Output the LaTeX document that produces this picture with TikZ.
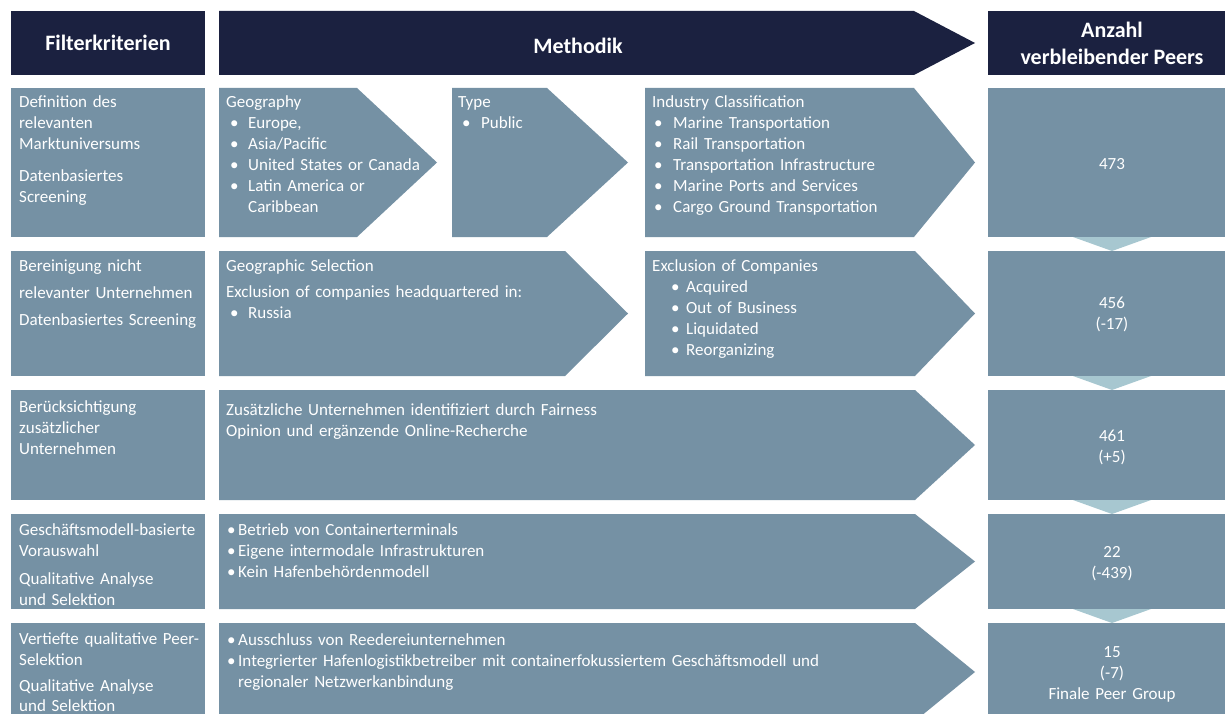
\documentclass[tikz,border=0pt]{standalone}
\usepackage{fontspec}
\setmainfont{Carlito}
\definecolor{navy}{HTML}{1B2140}
\definecolor{panel}{HTML}{7591A4}
\definecolor{linkfill}{HTML}{A7C7D0}
% chevron: left x, top y, shoulder x, tip x, bottom y
\newcommand\chevshape[6][panel]{%
  \fill[#1] (#2,#3) -- (#4,#3) -- (#5,{(#3+#6)/2}) -- (#4,#6) -- (#2,#6) -- cycle;}
\newcommand\bl[2]{\hspace*{#1}\makebox[#2][l]{\textbullet}}
\tikzset{
  body/.style={anchor=base west, inner sep=0pt, text=white,
    font=\fontsize{17}{21}\selectfont, align=left, text width=700pt},
  count/.style={anchor=base, inner sep=0pt, text=white,
    font=\fontsize{17}{21}\selectfont, align=center, text width=240pt},
  head/.style={inner sep=0pt, text=white,
    font=\fontsize{22}{27}\selectfont\bfseries, align=center},
  box/.style={fill=panel},
  hbox/.style={fill=navy},
  link/.style={fill=linkfill}
}
\begin{document}
\begin{tikzpicture}[x=1pt,y=-1pt]
\useasboundingbox (0,0) rectangle (1225,714);
\fill[white] (0,0) rectangle (1225,714);
\clip (0,0) rectangle (1225,714);

% header row
\fill[hbox] (11,11) rectangle (205,75);
\chevshape[navy]{219}{11}{914}{975}{75}
\fill[hbox] (988,11) rectangle (1236,75);
\node[head] (hfilter) at (108,43) {Filterkriterien};
\node[head] (hmeth) at (578,46) {Methodik};
\node[head] (hcount) at (1112,43) {Anzahl\\verbleibender Peers};

% left column
\foreach \ya/\yb in {88/237, 251/376, 390/500, 514/609, 623/721}
  \fill[box] (11,\ya) rectangle (205,\yb);
% right column
\foreach \ya/\yb in {88/237, 251/376, 390/500, 514/609, 623/721}
  \fill[box] (988,\ya) rectangle (1236,\yb);
% links between the counts
\foreach \y in {237, 376, 500, 609}
  \fill[link] (1073,\y) -- (1151,\y) -- (1112,\y+14) -- cycle;

% method chevrons
\chevshape{219}{88}{357}{437}{237}
\chevshape{452}{88}{547}{628}{237}
\chevshape{645}{88}{914}{975}{237}
\chevshape{219}{251}{565}{628}{376}
\chevshape{645}{251}{915}{975}{376}
\chevshape{219}{390}{915}{975}{500}
\chevshape{219}{514}{915}{975}{609}
\chevshape{219}{623}{915}{975}{721}

% row 1
\node[body] (c1) at (19,108) {Definition des\\relevanten\\Marktuniversums\\[11pt]Datenbasiertes\\Screening};
\node[body] (geo) at (226,108) {Geography\\
  \bl{4pt}{18pt}Europe,\\
  \bl{4pt}{18pt}Asia/Pacific\\
  \bl{4pt}{18pt}United States or Canada\\
  \bl{4pt}{18pt}Latin America or\\
  \hspace*{22pt}Caribbean};
\node[body] (type) at (458,108) {Type\\\bl{4pt}{19pt}Public};
\node[body] (ind) at (652,108) {Industry Classification\\
  \bl{2pt}{19pt}Marine Transportation\\
  \bl{2pt}{19pt}Rail Transportation\\
  \bl{2pt}{19pt}Transportation Infrastructure\\
  \bl{2pt}{19pt}Marine Ports and Services\\
  \bl{2pt}{19pt}Cargo Ground Transportation};
\node[count] (n1) at (1112,170) {473};

% row 2
\node[body] (c2) at (19,271) {Bereinigung nicht\\[6pt]relevanter Unternehmen\\[6pt]Datenbasiertes Screening};
\node[body] (geosel) at (226,271) {Geographic Selection\\[5pt]
  Exclusion of companies headquartered in:\\
  \bl{4pt}{18pt}Russia};
\node[body] (excl) at (652,271) {Exclusion of Companies\\
  \bl{19pt}{15pt}Acquired\\
  \bl{19pt}{15pt}Out of Business\\
  \bl{19pt}{15pt}Liquidated\\
  \bl{19pt}{15pt}Reorganizing};
\node[count] (n2) at (1112,308) {456\\(-17)};

% row 3
\node[body] (c3) at (19,412) {Berücksichtigung\\zusätzlicher\\Unternehmen};
\node[body] (add) at (226,415) {Zusätzliche Unternehmen identifiziert durch Fairness\\Opinion und ergänzende Online-Recherche};
\node[count] (n3) at (1112,441) {461\\(+5)};

% row 4
\node[body] (c4) at (19,535) {Geschäftsmodell-basierte\\Vorauswahl\\[7pt]Qualitative Analyse\\und Selektion};
\node[body] (bm) at (238,535) {%
  \hspace*{-11pt}\makebox[11pt][l]{\textbullet}Betrieb von Containerterminals\\
  \hspace*{-11pt}\makebox[11pt][l]{\textbullet}Eigene intermodale Infrastrukturen\\
  \hspace*{-11pt}\makebox[11pt][l]{\textbullet}Kein Hafenbehördenmodell};
\node[count] (n4) at (1112,557) {22\\(-439)};

% row 5
\node[body] (c5) at (19,644) {Vertiefte qualitative Peer-\\Selektion\\[5pt]Qualitative Analyse\\[-1pt]und Selektion};
\node[body] (peer) at (238,645) {%
  \hspace*{-11pt}\makebox[11pt][l]{\textbullet}Ausschluss von Reedereiunternehmen\\
  \hspace*{-11pt}\makebox[11pt][l]{\textbullet}Integrierter Hafenlogistikbetreiber mit containerfokussiertem Geschäftsmodell und\\
  regionaler Netzwerkanbindung};
\node[count] (n5) at (1112,657) {15\\(-7)\\Finale Peer Group};
\end{tikzpicture}
\end{document}
